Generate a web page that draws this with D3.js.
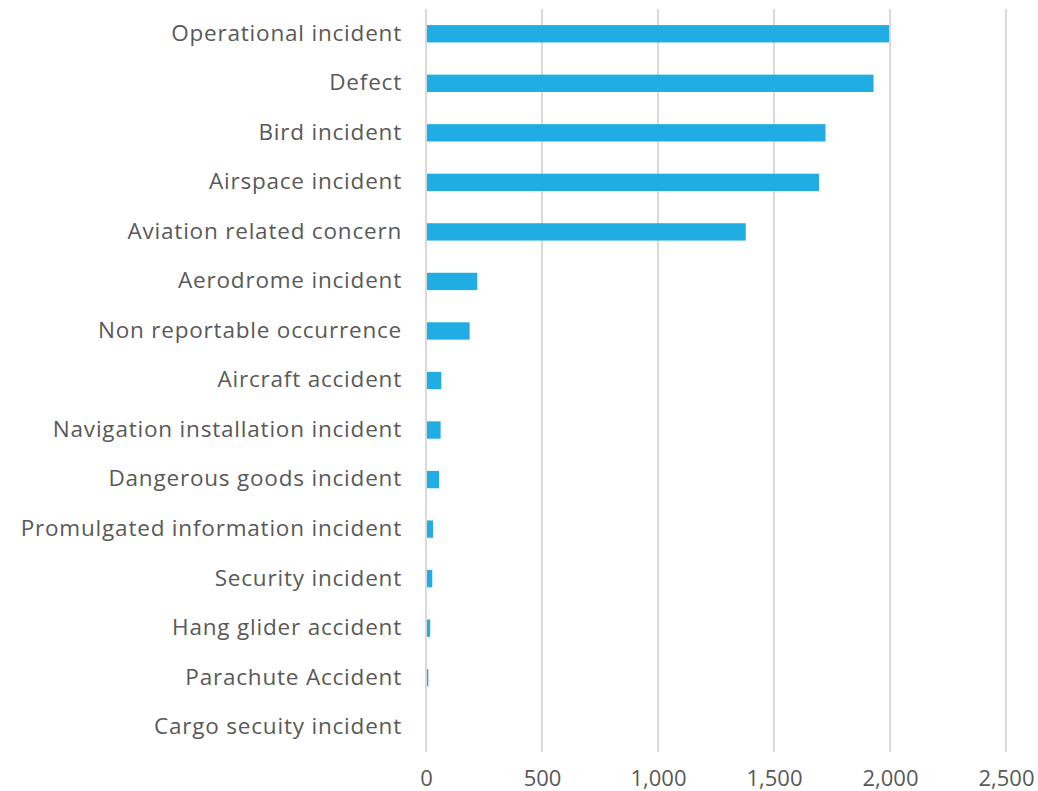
<!DOCTYPE html>
<html lang="en">
<head>
  <meta charset="utf-8">
  <title>Occurrences by type</title>
  <script src="https://d3js.org/d3.v7.min.js"></script>
  <style>
    body { margin: 0; background: #fff; }
    text { font-family: "Century Gothic", "Futura", "Open Sans", sans-serif; fill: #595959; }
  </style>
</head>
<body>
<script>
// occurrence types, top to bottom
var categories = [
  "Operational incident",
  "Defect",
  "Bird incident",
  "Airspace incident",
  "Aviation related concern",
  "Aerodrome incident",
  "Non reportable occurrence",
  "Aircraft accident",
  "Navigation installation incident",
  "Dangerous goods incident",
  "Promulgated information incident",
  "Security incident",
  "Hang glider accident",
  "Parachute Accident",
  "Cargo secuity incident"
];
var counts = [1996, 1929, 1722, 1694, 1378, 221, 188, 66, 63, 56, 30, 27, 18, 10, 0];
var xTicks = [0, 500, 1000, 1500, 2000, 2500];

var w = 1038, h = 791;
var plotLeft = 426, plotRight = 1006, plotTop = 9, plotBottom = 752;

var svg = d3.select("body").append("svg")
  .attr("width", w)
  .attr("height", h);

var x = d3.scaleLinear().domain([0, 2500]).range([plotLeft, plotRight]);
var y = d3.scaleBand().domain(categories).range([plotTop, plotBottom]).paddingInner(0.65).paddingOuter(0.325);

// vertical gridlines
svg.append("g").selectAll("line")
  .data(xTicks)
  .enter().append("line")
  .attr("x1", function(d) { return x(d); })
  .attr("x2", function(d) { return x(d); })
  .attr("y1", plotTop)
  .attr("y2", plotBottom)
  .attr("stroke", "#d9d9d9")
  .attr("stroke-width", 2);

// bars
svg.append("g").selectAll("rect")
  .data(counts)
  .enter().append("rect")
  .attr("x", x(0) + 1)
  .attr("y", function(d, i) { return y(categories[i]); })
  .attr("width", function(d) { return Math.max(0, x(d) - x(0) - 1); })
  .attr("height", y.bandwidth())
  .attr("fill", "#1fade3");

// category labels
svg.append("g").selectAll("text")
  .data(categories)
  .enter().append("text")
  .attr("x", 402)
  .attr("y", function(d) { return y(d) + y.bandwidth() / 2 - 1; })
  .attr("dy", "0.35em")
  .attr("text-anchor", "end")
  .style("font-size", "22.5px")
  .style("letter-spacing", "0.8px")
  .text(function(d) { return d; });

// x axis labels
var xAxis = d3.axisBottom(x)
  .tickValues(xTicks)
  .tickSize(0)
  .tickPadding(18)
  .tickFormat(d3.format(","));

svg.append("g")
  .attr("transform", "translate(0," + plotBottom + ")")
  .call(xAxis)
  .call(function(g) { g.select(".domain").remove(); })
  .selectAll("text")
  .style("font-size", "22px")
  .style("font-family", null);
</script>
</body>
</html>
